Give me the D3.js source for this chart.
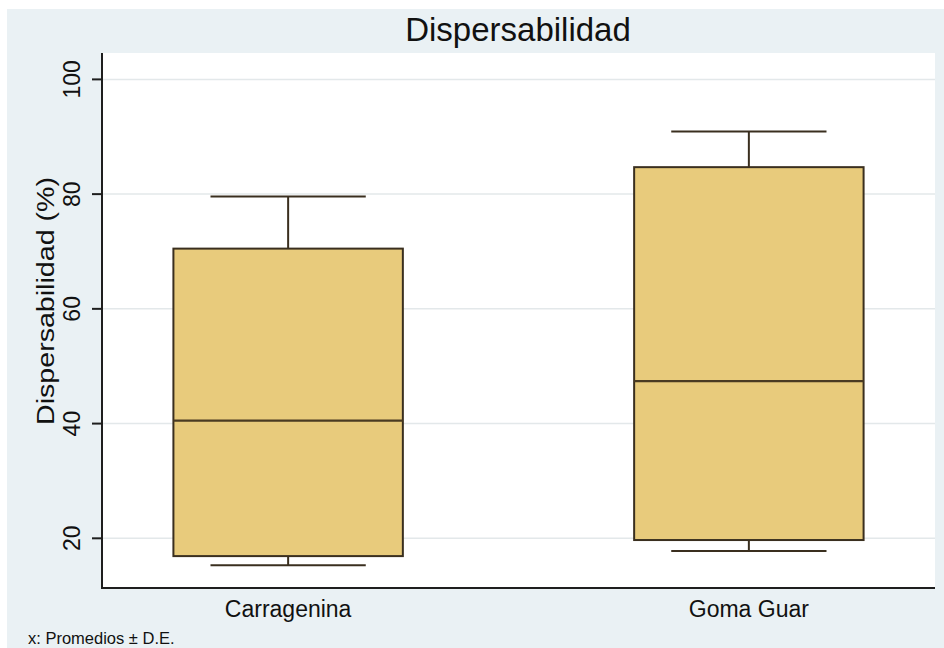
<!DOCTYPE html>
<html>
<head>
<meta charset="utf-8">
<script src="https://cdn.jsdelivr.net/npm/d3@7/dist/d3.min.js"></script>
<style>
  html, body { margin: 0; padding: 0; background: #ffffff; }
  svg { display: block; font-family: "Liberation Sans", Arial, sans-serif; }
</style>
</head>
<body>
<svg id="chart" width="944" height="648"></svg>
<script>
// Dispersabilidad por tipo de hidrocoloide
const categories = ["Carragenina", "Goma Guar"];
const whiskerLow  = [15.3, 17.8];
const boxLow      = [16.9, 19.7];
const centerLine  = [40.5, 47.4];
const boxHigh     = [70.5, 84.7];
const whiskerHigh = [79.6, 90.9];
const yTicks = [20, 40, 60, 80, 100];

const rows = categories.map((c, i) => ({
  cat: c, lo: whiskerLow[i], q1: boxLow[i], med: centerLine[i], q3: boxHigh[i], hi: whiskerHigh[i]
}));

const W = 944, H = 648;
const plot = { left: 102, right: 935, top: 53, bottom: 588 };

const svg = d3.select("#chart");

// outer panel
svg.append("rect").attr("x", 7).attr("y", 9).attr("width", W - 7).attr("height", H - 9)
  .attr("fill", "#eaf1f4");
// plot area
svg.append("rect").attr("x", plot.left).attr("y", plot.top)
  .attr("width", plot.right - plot.left).attr("height", plot.bottom - plot.top)
  .attr("fill", "#ffffff");

const x = d3.scalePoint().domain(categories).range([plot.left, plot.right]).padding(0.404);
const y = d3.scaleLinear().domain([11.34, 104.6]).range([plot.bottom, plot.top]);

// gridlines
svg.append("g").selectAll("line").data(yTicks).join("line")
  .attr("x1", plot.left).attr("x2", plot.right)
  .attr("y1", d => y(d)).attr("y2", d => y(d))
  .attr("stroke", "#e3e8ea").attr("stroke-width", 1.5);

const step = x.step();
const boxW = step * 0.498;
const capW = step * 0.337;
const ink = "#3a2f1f";

const g = svg.append("g").selectAll("g").data(rows).join("g");

// whisker stems
g.append("line").attr("x1", d => x(d.cat)).attr("x2", d => x(d.cat))
  .attr("y1", d => y(d.hi)).attr("y2", d => y(d.q3))
  .attr("stroke", ink).attr("stroke-width", 2);
g.append("line").attr("x1", d => x(d.cat)).attr("x2", d => x(d.cat))
  .attr("y1", d => y(d.q1)).attr("y2", d => y(d.lo))
  .attr("stroke", ink).attr("stroke-width", 2);
// whisker caps
g.append("line").attr("x1", d => x(d.cat) - capW / 2).attr("x2", d => x(d.cat) + capW / 2)
  .attr("y1", d => y(d.hi)).attr("y2", d => y(d.hi))
  .attr("stroke", ink).attr("stroke-width", 2);
g.append("line").attr("x1", d => x(d.cat) - capW / 2).attr("x2", d => x(d.cat) + capW / 2)
  .attr("y1", d => y(d.lo)).attr("y2", d => y(d.lo))
  .attr("stroke", ink).attr("stroke-width", 2);
// boxes
g.append("rect").attr("x", d => x(d.cat) - boxW / 2).attr("width", boxW)
  .attr("y", d => y(d.q3)).attr("height", d => y(d.q1) - y(d.q3))
  .attr("fill", "#e8cb7c").attr("stroke", ink).attr("stroke-width", 2);
// center line
g.append("line").attr("x1", d => x(d.cat) - boxW / 2).attr("x2", d => x(d.cat) + boxW / 2)
  .attr("y1", d => y(d.med)).attr("y2", d => y(d.med))
  .attr("stroke", "#4a3b22").attr("stroke-width", 2.2);

// axes
svg.append("line").attr("x1", plot.left).attr("x2", plot.left)
  .attr("y1", plot.top).attr("y2", plot.bottom + 1)
  .attr("stroke", "#1e1e1e").attr("stroke-width", 2);
svg.append("line").attr("x1", plot.left - 1).attr("x2", plot.right)
  .attr("y1", plot.bottom).attr("y2", plot.bottom)
  .attr("stroke", "#1e1e1e").attr("stroke-width", 2);

// y ticks
const yAxis = svg.append("g");
yAxis.selectAll("line").data(yTicks).join("line")
  .attr("x1", plot.left - 10).attr("x2", plot.left)
  .attr("y1", d => y(d)).attr("y2", d => y(d))
  .attr("stroke", "#1e1e1e").attr("stroke-width", 2);
yAxis.selectAll("text").data(yTicks).join("text")
  .attr("transform", d => `translate(80,${y(d)}) rotate(-90)`)
  .attr("text-anchor", "middle")
  .attr("font-size", 23).attr("fill", "#111")
  .text(d => d);

// x labels
svg.append("g").selectAll("text").data(categories).join("text")
  .attr("x", d => x(d)).attr("y", 617)
  .attr("text-anchor", "middle").attr("font-size", 23).attr("fill", "#111")
  .text(d => d);

// titles
svg.append("text").attr("x", 518).attr("y", 41).attr("text-anchor", "middle")
  .attr("font-size", 33).attr("fill", "#111").text("Dispersabilidad");

svg.append("text").attr("transform", "translate(54,301) rotate(-90)")
  .attr("text-anchor", "middle").attr("font-size", 23).attr("fill", "#111")
  .attr("textLength", 248).attr("lengthAdjust", "spacingAndGlyphs")
  .text("Dispersabilidad (%)");

svg.append("text").attr("x", 28).attr("y", 644)
  .attr("font-size", 16.5).attr("fill", "#111").text("x: Promedios ± D.E.");
</script>
</body>
</html>
